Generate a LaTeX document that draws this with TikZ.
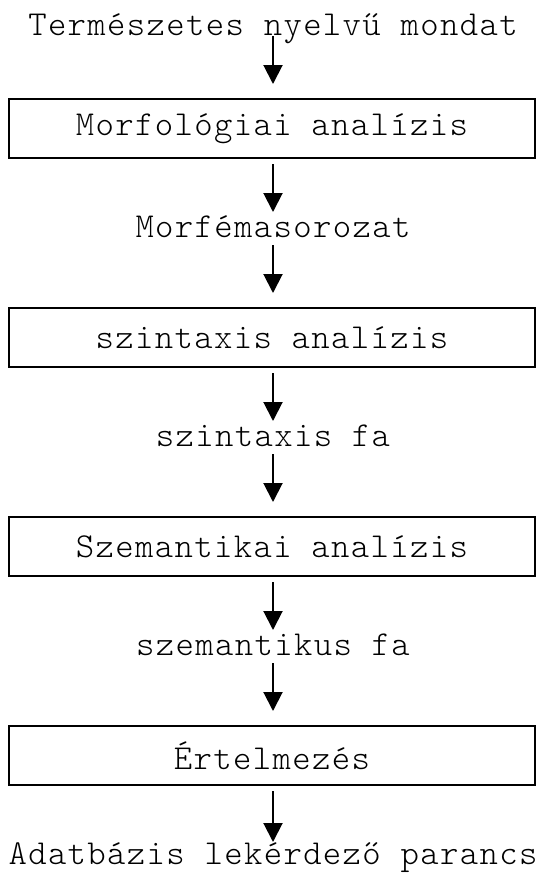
\documentclass[tikz,border=0pt]{standalone}
\usepackage{fontspec}
\usetikzlibrary{arrows.meta}

% light, spaced typewriter face used for every label
\newfontfamily\diagmono{lmmonolt10-regular.otf}[LetterSpace=3.9]
\newcommand{\diagfont}{\diagmono\fontsize{35}{40}\selectfont}

\tikzset{
  lbl/.style={inner sep=0pt, anchor=base, font=\diagfont},
  stagebox/.style={draw, line width=2pt, minimum width=526pt, minimum height=59pt,
    inner sep=0pt, font=\diagfont},
  flow/.style={line width=2pt, -{Triangle[width=19pt,length=19pt]}}
}

\begin{document}
\begin{tikzpicture}[x=1pt, y=-1pt]
  \useasboundingbox (0,0) rectangle (540,876);

  % input sentence
  \node[lbl] (t0) at (273,35) {Természetes nyelvű mondat};

  % processing stages and intermediate results
  \node[stagebox] (b1) at (272,128.5) {Morfológiai analízis};
  \node[lbl] (t1) at (273,237) {Morfémasorozat};
  \node[stagebox] (b2) at (272,337.5) {szintaxis analízis};
  \node[lbl] (t2) at (273,446) {szintaxis fa};
  \node[stagebox] (b3) at (272,546.5) {Szemantikai analízis};
  \node[lbl] (t3) at (273,655) {szemantikus fa};
  \node[stagebox] (b4) at (272,755.5) {Értelmezés};

  % final output
  \node[lbl] (t4) at (273,864) {Adatbázis lekérdező parancs};

  % connectors
  \draw[flow, shorten <=1pt, shorten >=14pt] (t0.base) -- (t0.base |- b1.north);
  \draw[flow, shorten <=5pt, shorten >=25pt] (t1.base |- b1.south) -- (t1.base);
  \draw[flow, shorten <=8pt, shorten >=14pt] (t1.base) -- (t1.base |- b2.north);
  \draw[flow, shorten <=5pt, shorten >=25pt] (t2.base |- b2.south) -- (t2.base);
  \draw[flow, shorten <=8pt, shorten >=14pt] (t2.base) -- (t2.base |- b3.north);
  \draw[flow, shorten <=5pt, shorten >=25pt] (t3.base |- b3.south) -- (t3.base);
  \draw[flow, shorten <=8pt, shorten >=14pt] (t3.base) -- (t3.base |- b4.north);
  \draw[flow, shorten <=5pt, shorten >=22pt] (t4.base |- b4.south) -- (t4.base);
\end{tikzpicture}
\end{document}
